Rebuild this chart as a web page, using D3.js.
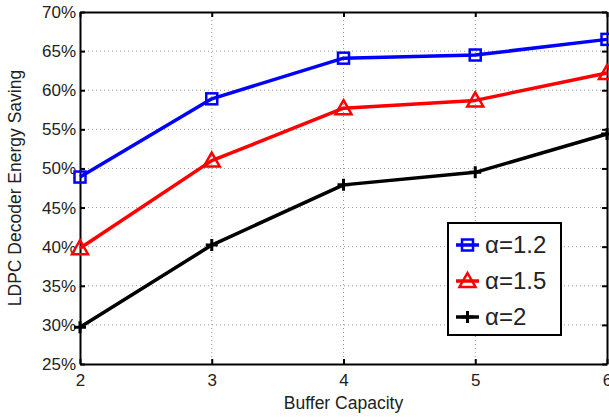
<!DOCTYPE html>
<meta charset="utf-8">
<style>
body { margin: 0; background: #fff; }
text { font-family: "Liberation Sans", Arial, sans-serif; fill: #222; }
</style>
<svg width="609" height="420"></svg>
<script src="https://cdn.jsdelivr.net/npm/d3@7/dist/d3.min.js"></script>
<script>

// data
var capacity = [2, 3, 4, 5, 6];
var alpha12 = [48.9, 58.9, 64.1, 64.5, 66.5];
var alpha15 = [39.8, 51.0, 57.7, 58.7, 62.2];
var alpha2 = [29.7, 40.2, 47.9, 49.5, 54.4];
var yTicks = [25, 30, 35, 40, 45, 50, 55, 60, 65, 70];
var seriesNames = ["α=1.2", "α=1.5", "α=2"];

var series = [
  {name: seriesNames[0], values: alpha12, color: "#0000ff", marker: "square"},
  {name: seriesNames[1], values: alpha15, color: "#ff0000", marker: "triangle"},
  {name: seriesNames[2], values: alpha2, color: "#000000", marker: "plus"}
];

var svg = d3.select("svg"),
    margin = {top: 12, right: 2, bottom: 56, left: 80},
    width = +svg.attr("width") - margin.left - margin.right,
    height = +svg.attr("height") - margin.top - margin.bottom;

var x = d3.scaleLinear().domain([2, 6]).range([0, width]);
var y = d3.scaleLinear().domain([25, 70]).range([height, 0]);

var g = svg.append("g")
    .attr("transform", "translate(" + margin.left + "," + margin.top + ")");

// dotted grid
g.append("g").selectAll("line").data(capacity.slice(1, -1))
  .enter().append("line")
    .attr("x1", d => x(d)).attr("x2", d => x(d))
    .attr("y1", 0).attr("y2", height)
    .attr("stroke", "#999").attr("stroke-width", 1)
    .attr("stroke-dasharray", "1,3");
g.append("g").selectAll("line").data(yTicks.slice(1, -1))
  .enter().append("line")
    .attr("x1", 0).attr("x2", width)
    .attr("y1", d => y(d)).attr("y2", d => y(d))
    .attr("stroke", "#999").attr("stroke-width", 1)
    .attr("stroke-dasharray", "1,3");

// axes with inward ticks
var xAxis = g.append("g")
    .attr("transform", "translate(0," + height + ")")
    .call(d3.axisBottom(x).tickValues(capacity).tickFormat(d3.format("d"))
      .tickSizeInner(-5).tickSizeOuter(0).tickPadding(10));
var yAxis = g.append("g")
    .call(d3.axisLeft(y).tickValues(yTicks).tickFormat(d => d + "%")
      .tickSizeInner(-5).tickSizeOuter(0).tickPadding(4));
g.append("g")
    .call(d3.axisTop(x).tickValues(capacity).tickFormat("")
      .tickSizeInner(-5).tickSizeOuter(0));
g.append("g")
    .attr("transform", "translate(" + width + ",0)")
    .call(d3.axisRight(y).tickValues(yTicks).tickFormat("")
      .tickSizeInner(-5).tickSizeOuter(0));

g.selectAll(".domain").attr("stroke", "#000").attr("stroke-width", 2);
g.selectAll(".tick line").attr("stroke", "#000").attr("stroke-width", 2);
xAxis.selectAll("text").attr("font-size", 17).style("fill", "#222");
yAxis.selectAll("text").attr("font-size", 17).style("fill", "#222");

var line = d3.line()
    .x((d, i) => x(capacity[i]))
    .y(d => y(d));

function drawMarker(sel, type, color) {
  if (type === "square") {
    sel.append("rect").attr("x", -5.5).attr("y", -5.5)
      .attr("width", 11).attr("height", 11)
      .attr("fill", "none").attr("stroke", color).attr("stroke-width", 2.5);
  } else if (type === "triangle") {
    sel.append("path").attr("d", "M0,-8L8,6L-8,6Z")
      .attr("fill", "none").attr("stroke", color).attr("stroke-width", 2.5);
  } else {
    sel.append("path").attr("d", "M-6,0H6M0,-6V6")
      .attr("fill", "none").attr("stroke", color).attr("stroke-width", 3);
  }
}

series.forEach(function(s) {
  g.append("path")
    .datum(s.values)
    .attr("fill", "none")
    .attr("stroke", s.color)
    .attr("stroke-width", 3.5)
    .attr("stroke-linejoin", "round")
    .attr("d", line);
  s.values.forEach(function(v, i) {
    var m = g.append("g")
      .attr("transform", "translate(" + x(capacity[i]) + "," + y(v) + ")");
    drawMarker(m, s.marker, s.color);
  });
});

// legend
var legend = svg.append("g").attr("transform", "translate(448,223)");
legend.append("rect")
    .attr("width", 113).attr("height", 112)
    .attr("fill", "#fff").attr("stroke", "#000").attr("stroke-width", 2);
series.forEach(function(s, i) {
  var row = legend.append("g").attr("transform", "translate(0," + (22 + i * 36) + ")");
  row.append("line").attr("x1", 8).attr("x2", 31)
    .attr("stroke", s.color).attr("stroke-width", 3.5);
  drawMarker(row.append("g").attr("transform", "translate(19.5,0)"), s.marker, s.color);
  row.append("text").attr("x", 37).attr("y", 8)
    .attr("font-size", 24).text(s.name);
});

svg.append("text")
    .attr("x", margin.left + width / 2).attr("y", 409)
    .attr("text-anchor", "middle").attr("font-size", 17.5)
    .text("Buffer Capacity");

svg.append("text")
    .attr("transform", "translate(21," + (margin.top + height / 2) + ") rotate(-90)")
    .attr("text-anchor", "middle").attr("font-size", 17.5)
    .text("LDPC Decoder Energy Saving");

</script>
